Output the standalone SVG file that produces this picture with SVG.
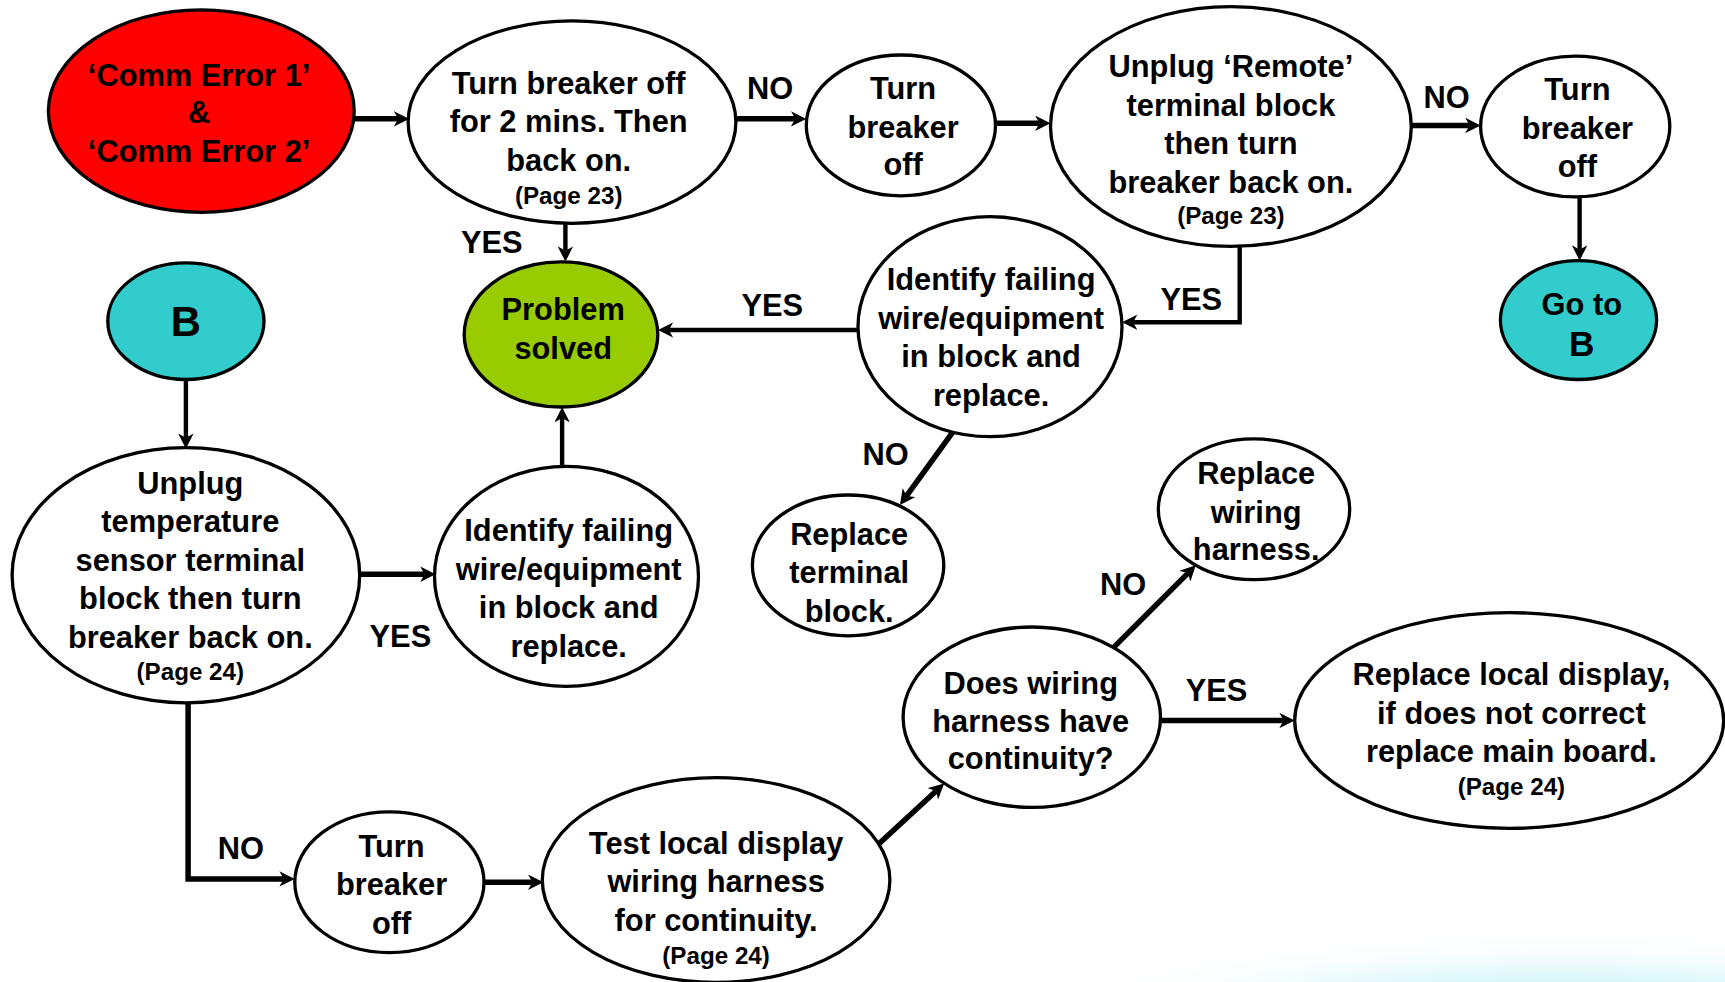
<svg xmlns="http://www.w3.org/2000/svg" width="1725" height="982" viewBox="0 0 1725 982">
<style>
.n{stroke:#000;stroke-width:3}
.w{fill:#fff}
.t{font-family:"Liberation Sans",Arial,sans-serif;font-weight:bold;font-size:28px;text-anchor:middle;fill:#000}
.p{font-size:22px}
.c{fill:none;stroke:#000;stroke-width:5;marker-end:url(#ah)}
.c3{stroke-width:4}
</style>
<defs>
<marker id="ah" viewBox="0 0 14 14" refX="4" refY="7" markerWidth="14" markerHeight="14" markerUnits="userSpaceOnUse" orient="auto">
<path d="M0,0 L14,7 L0,14 L4,7 z" fill="#000"/>
</marker>
<radialGradient id="glow" cx="0.5" cy="0.5" r="0.5">
<stop offset="0" stop-color="#b8eef4"/>
<stop offset="0.6" stop-color="#dcf7fa"/>
<stop offset="1" stop-color="#ffffff" stop-opacity="0"/>
</radialGradient>
</defs>
<rect width="1725" height="982" fill="#fff"/>
<g transform="scale(1.1)">
<ellipse cx="1420" cy="955" rx="520" ry="110" fill="url(#glow)"/>
<g id="connectors">
<path class="c" d="M322,108 H362"/>
<path class="c" d="M669,108 H723"/>
<path class="c" d="M905,112 H945"/>
<path class="c" d="M1283,114 H1336"/>
<path class="c c3" d="M1436,180 V227"/>
<path class="c c3" d="M514,203 V228"/>
<path class="c c3" d="M1127,224 V293 H1030"/>
<path class="c c3" d="M781,300 H608"/>
<path class="c" d="M866,393 L824,451"/>
<path class="c c3" d="M169,345 V398"/>
<path class="c" d="M327,522 H386"/>
<path class="c c3" d="M511,425 V380"/>
<path class="c" d="M171,639 V799 H258"/>
<path class="c" d="M440,802 H484"/>
<path class="c" d="M799,767 L851,719"/>
<path class="c" d="M1012,589 L1080,521"/>
<path class="c" d="M1056,655 H1167"/>
<text class="t" x="700" y="90">NO</text>
<text class="t" x="1315" y="98">NO</text>
<text class="t" x="447" y="230">YES</text>
<text class="t" x="1083" y="282">YES</text>
<text class="t" x="702" y="287">YES</text>
<text class="t" x="805" y="423">NO</text>
<text class="t" x="364" y="588">YES</text>
<text class="t" x="219" y="781">NO</text>
<text class="t" x="1021" y="541">NO</text>
<text class="t" x="1106" y="637">YES</text>
</g>
<g id="n-comm">
<ellipse class="n" cx="183" cy="101" rx="139" ry="92" fill="#FF0000"/>
<text class="t" x="181" y="78">‘Comm Error 1’</text>
<text class="t" x="181" y="112">&amp;</text>
<text class="t" x="181" y="147">‘Comm Error 2’</text>
</g>
<g id="n-turn2min">
<ellipse class="n w" cx="520" cy="111" rx="149" ry="92"/>
<text class="t" x="517" y="85">Turn breaker off</text>
<text class="t" x="517" y="120">for 2 mins. Then</text>
<text class="t" x="517" y="155">back on.</text>
<text class="t p" x="517" y="185">(Page 23)</text>
</g>
<g id="n-off1">
<ellipse class="n w" cx="819" cy="114" rx="86" ry="64"/>
<text class="t" x="821" y="90">Turn</text>
<text class="t" x="821" y="125">breaker</text>
<text class="t" x="821" y="159">off</text>
</g>
<g id="n-remote">
<ellipse class="n w" cx="1119" cy="115" rx="164" ry="109"/>
<text class="t" x="1119" y="70">Unplug ‘Remote’</text>
<text class="t" x="1119" y="105">terminal block</text>
<text class="t" x="1119" y="140">then turn</text>
<text class="t" x="1119" y="175">breaker back on.</text>
<text class="t p" x="1119" y="204">(Page 23)</text>
</g>
<g id="n-off2">
<ellipse class="n w" cx="1432" cy="115" rx="86" ry="64"/>
<text class="t" x="1434" y="91">Turn</text>
<text class="t" x="1434" y="126">breaker</text>
<text class="t" x="1434" y="161">off</text>
</g>
<g id="n-gotob">
<ellipse class="n" cx="1435" cy="291" rx="71" ry="54" fill="#33CCCC"/>
<text class="t" x="1438" y="286">Go to</text>
<text class="t" x="1438" y="324" style="font-size:32px">B</text>
</g>
<g id="n-b">
<ellipse class="n" cx="169" cy="292" rx="71" ry="53" fill="#33CCCC"/>
<text class="t" x="169" y="305" style="font-size:38px">B</text>
</g>
<g id="n-solved">
<ellipse class="n" cx="510" cy="304" rx="88" ry="66" fill="#99CC00"/>
<text class="t" x="512" y="291">Problem</text>
<text class="t" x="512" y="326">solved</text>
</g>
<g id="n-identify1">
<ellipse class="n w" cx="900" cy="297" rx="120" ry="100"/>
<text class="t" x="901" y="264">Identify failing</text>
<text class="t" x="901" y="299">wire/equipment</text>
<text class="t" x="901" y="334">in block and</text>
<text class="t" x="901" y="369">replace.</text>
</g>
<g id="n-repblock">
<ellipse class="n w" cx="771" cy="514" rx="87" ry="64"/>
<text class="t" x="772" y="495">Replace</text>
<text class="t" x="772" y="530">terminal</text>
<text class="t" x="772" y="565">block.</text>
</g>
<g id="n-repharness">
<ellipse class="n w" cx="1140" cy="463" rx="87" ry="64"/>
<text class="t" x="1142" y="440">Replace</text>
<text class="t" x="1142" y="475">wiring</text>
<text class="t" x="1142" y="509">harness.</text>
</g>
<g id="n-temp">
<ellipse class="n w" cx="169" cy="523" rx="158" ry="116"/>
<text class="t" x="173" y="449">Unplug</text>
<text class="t" x="173" y="484">temperature</text>
<text class="t" x="173" y="519">sensor terminal</text>
<text class="t" x="173" y="554">block then turn</text>
<text class="t" x="173" y="589">breaker back on.</text>
<text class="t p" x="173" y="618">(Page 24)</text>
</g>
<g id="n-identify2">
<ellipse class="n w" cx="515" cy="524" rx="120" ry="100"/>
<text class="t" x="517" y="492">Identify failing</text>
<text class="t" x="517" y="527">wire/equipment</text>
<text class="t" x="517" y="562">in block and</text>
<text class="t" x="517" y="597">replace.</text>
</g>
<g id="n-continuity">
<ellipse class="n w" cx="938" cy="652" rx="117" ry="82"/>
<text class="t" x="937" y="631">Does wiring</text>
<text class="t" x="937" y="665">harness have</text>
<text class="t" x="937" y="699">continuity?</text>
</g>
<g id="n-replocal">
<ellipse class="n w" cx="1372" cy="655" rx="195" ry="98"/>
<text class="t" x="1374" y="623">Replace local display,</text>
<text class="t" x="1374" y="658">if does not correct</text>
<text class="t" x="1374" y="693">replace main board.</text>
<text class="t p" x="1374" y="723">(Page 24)</text>
</g>
<g id="n-off3">
<ellipse class="n w" cx="354" cy="802" rx="86" ry="64"/>
<text class="t" x="356" y="779">Turn</text>
<text class="t" x="356" y="814">breaker</text>
<text class="t" x="356" y="849">off</text>
</g>
<g id="n-test">
<ellipse class="n w" cx="651" cy="800" rx="158" ry="93"/>
<text class="t" x="651" y="776">Test local display</text>
<text class="t" x="651" y="811">wiring harness</text>
<text class="t" x="651" y="846">for continuity.</text>
<text class="t p" x="651" y="876">(Page 24)</text>
</g>
</g>
</svg>
